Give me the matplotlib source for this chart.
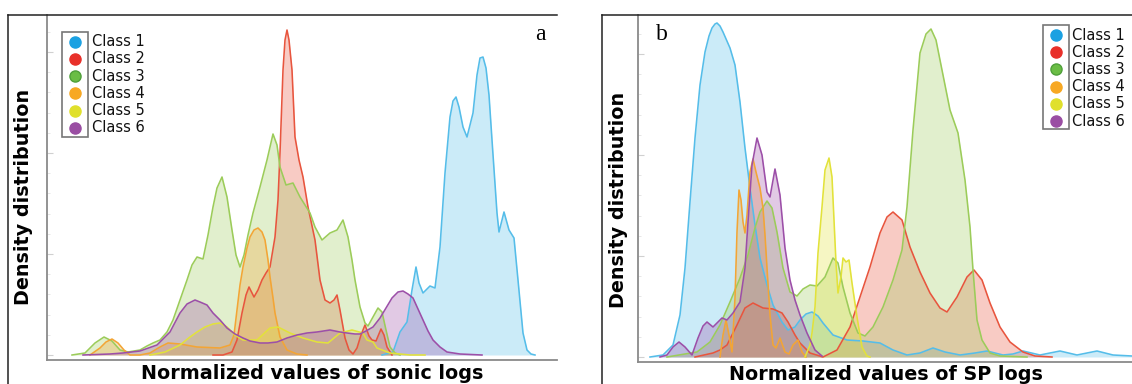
import matplotlib
matplotlib.use("Agg")
import matplotlib.pyplot as plt
from matplotlib.lines import Line2D
from matplotlib.patches import Rectangle
from matplotlib.ticker import MultipleLocator

W, H = 1132, 384

classes = ["Class 1", "Class 2", "Class 3", "Class 4", "Class 5", "Class 6"]
line_colors = ["#55bde9", "#e8553e", "#9ccc5a", "#f3a535", "#e2e23a", "#9c4fa8"]
marker_colors = ["#1ba1e2", "#e8302a", "#6abd45", "#f7a823", "#e0e02c", "#9a4ea3"]
marker_edges = ["#1ba1e2", "#e8302a", "#4f9f3a", "#f7a823", "#e0e02c", "#9a4ea3"]

# ---------------- Panel a: sonic logs (x position, density height) ----------------
a_c1_x = [382, 393, 400, 407, 412, 416, 419, 423, 430, 435, 440, 445, 450, 453, 456, 459, 463, 467, 473, 477, 480, 483, 486, 489, 492, 497, 499, 504, 509, 514, 518, 523, 527, 531, 535]
a_c1_y = [0, 3, 23, 33, 65, 88, 72, 62, 69, 67, 108, 182, 238, 254, 258, 248, 228, 218, 242, 280, 297, 298, 287, 260, 215, 142, 123, 143, 125, 117, 75, 22, 5, 1, 0]

a_c2_x = [213, 223, 232, 237, 242, 246, 249, 252, 254, 258, 262, 266, 270, 275, 278, 280, 283, 285, 287, 289, 292, 295, 299, 303, 308, 315, 320, 325, 330, 334, 337, 340, 345, 349, 353, 357, 361, 365, 369, 372, 376, 381, 384, 387, 392]
a_c2_y = [0, 0, 3, 15, 42, 60, 68, 62, 58, 65, 75, 82, 88, 118, 155, 202, 285, 315, 325, 315, 285, 218, 195, 178, 148, 115, 75, 55, 52, 55, 60, 45, 17, 5, 1, 7, 20, 30, 19, 15, 14, 26, 20, 8, 0]

a_c3_x = [72, 85, 95, 104, 112, 120, 128, 140, 147, 153, 160, 167, 173, 180, 187, 192, 197, 203, 208, 213, 217, 222, 227, 232, 236, 240, 244, 248, 253, 260, 267, 273, 277, 280, 286, 293, 300, 305, 310, 315, 322, 330, 337, 343, 348, 352, 355, 360, 365, 368, 373, 378, 382, 386, 390, 395, 400]
a_c3_y = [0, 2, 12, 18, 14, 5, 3, 5, 9, 12, 15, 23, 35, 55, 75, 90, 98, 96, 120, 148, 167, 178, 158, 125, 100, 88, 100, 120, 142, 168, 195, 221, 210, 188, 170, 172, 158, 150, 142, 128, 115, 122, 125, 135, 118, 95, 75, 48, 32, 29, 38, 47, 43, 25, 8, 2, 0]

a_c4_x = [90, 100, 106, 112, 118, 124, 130, 140, 150, 160, 168, 180, 197, 220, 230, 234, 237, 240, 243, 247, 250, 254, 258, 262, 265, 268, 270, 273, 275, 280, 287, 297, 307]
a_c4_y = [0, 7, 13, 16, 12, 5, 0, 0, 2, 8, 12, 11, 8, 7, 10, 20, 45, 70, 88, 107, 118, 125, 127, 123, 115, 95, 78, 57, 42, 18, 5, 1, 0]

a_c5_x = [150, 165, 180, 190, 197, 205, 213, 220, 227, 235, 243, 257, 270, 278, 290, 303, 317, 328, 340, 352, 363, 367, 373, 377, 390, 410, 425]
a_c5_y = [0, 3, 10, 18, 23, 28, 31, 32, 28, 20, 15, 15, 27, 28, 22, 17, 13, 12, 22, 25, 22, 15, 13, 7, 2, 0, 0]

a_c6_x = [83, 110, 123, 140, 157, 170, 180, 187, 195, 200, 207, 213, 220, 227, 235, 243, 250, 260, 268, 277, 287, 297, 307, 317, 330, 340, 347, 355, 360, 366, 373, 380, 386, 392, 398, 403, 408, 413, 418, 423, 428, 433, 440, 447, 460, 482]
a_c6_y = [0, 1, 2, 4, 10, 23, 42, 51, 55, 53, 50, 42, 35, 27, 21, 17, 14, 12, 12, 13, 17, 20, 22, 23, 25, 23, 22, 21, 21, 24, 28, 37, 47, 57, 63, 64, 61, 57, 46, 35, 24, 15, 8, 3, 1, 0]

# ---------------- Panel b: SP logs (x position, density height) ----------------
b_c1_x = [650, 663, 673, 680, 685, 690, 695, 700, 705, 709, 712, 715, 717, 720, 723, 730, 735, 740, 745, 750, 755, 760, 767, 773, 782, 788, 795, 800, 806, 812, 818, 823, 833, 847, 863, 880, 893, 907, 920, 933, 945, 960, 975, 987, 1003, 1013, 1023, 1040, 1060, 1077, 1097, 1113, 1132, 1145]
b_c1_y = [0, 2, 12, 42, 89, 155, 219, 272, 305, 321, 329, 333, 334, 331, 325, 309, 292, 255, 209, 169, 132, 99, 72, 52, 35, 27, 30, 37, 43, 45, 41, 34, 22, 17, 16, 14, 7, 2, 4, 9, 5, 2, 4, 6, 2, 3, 6, 2, 6, 2, 6, 2, 1, 1]

b_c2_x = [695, 713, 720, 727, 732, 737, 745, 753, 763, 773, 782, 788, 795, 800, 810, 823, 837, 850, 860, 870, 880, 887, 893, 902, 910, 920, 930, 940, 947, 957, 967, 974, 982, 990, 1000, 1010, 1023, 1035, 1052]
b_c2_y = [0, 4, 7, 12, 22, 32, 49, 54, 49, 48, 44, 35, 22, 14, 4, 0, 7, 30, 60, 90, 124, 140, 145, 137, 110, 85, 64, 49, 45, 60, 80, 87, 77, 54, 30, 15, 5, 1, 0]

b_c3_x = [667, 697, 710, 720, 730, 740, 748, 755, 760, 767, 772, 777, 783, 790, 797, 803, 810, 817, 825, 833, 838, 843, 850, 858, 865, 873, 883, 893, 902, 907, 913, 920, 926, 931, 936, 940, 950, 958, 965, 970, 973, 977, 982, 990, 1000, 1027]
b_c3_y = [0, 5, 15, 32, 55, 79, 102, 129, 145, 156, 149, 125, 89, 65, 61, 68, 72, 71, 80, 99, 94, 70, 44, 24, 21, 30, 50, 77, 107, 150, 227, 304, 323, 328, 317, 297, 247, 224, 177, 130, 87, 37, 17, 4, 1, 0]

b_c4_x = [720, 723, 726, 729, 732, 735, 737, 739, 741, 743, 745, 747, 750, 753, 756, 760, 763, 765, 767, 770, 773, 776, 780, 785, 789, 793, 798, 802, 806]
b_c4_y = [0, 22, 37, 22, 5, 59, 125, 167, 157, 135, 124, 142, 185, 198, 185, 169, 149, 122, 89, 42, 12, 9, 19, 5, 3, 12, 17, 5, 0]

b_c5_x = [805, 810, 812, 815, 818, 822, 825, 829, 832, 834, 836, 838, 841, 843, 846, 849, 852, 857, 862, 867, 870]
b_c5_y = [0, 12, 24, 50, 104, 150, 187, 199, 180, 137, 94, 64, 80, 99, 95, 97, 74, 40, 10, 1, 0]

b_c6_x = [660, 667, 673, 679, 685, 692, 698, 703, 707, 713, 718, 722, 727, 733, 740, 745, 748, 752, 757, 762, 767, 770, 775, 780, 785, 790, 795, 800, 807, 815, 822]
b_c6_y = [0, 2, 10, 15, 10, 2, 19, 31, 35, 30, 35, 39, 37, 44, 55, 89, 135, 192, 219, 202, 165, 160, 188, 162, 109, 77, 57, 42, 24, 7, 1]

panel_a = [(a_c1_x, a_c1_y), (a_c2_x, a_c2_y), (a_c3_x, a_c3_y),
           (a_c4_x, a_c4_y), (a_c5_x, a_c5_y), (a_c6_x, a_c6_y)]
panel_b = [(b_c1_x, b_c1_y), (b_c2_x, b_c2_y), (b_c3_x, b_c3_y),
           (b_c4_x, b_c4_y), (b_c5_x, b_c5_y), (b_c6_x, b_c6_y)]


def fx(px):
    return px / W


def fy(py):
    return 1 - py / H


fig = plt.figure(figsize=(W / 100, H / 100), dpi=100)


def make_axes(left, right, bottom, top, baseline):
    ax = fig.add_axes([fx(left), fy(bottom), fx(right) - fx(left), fy(top) - fy(bottom)])
    ax.set_xlim(left, right)
    ax.set_ylim(-(bottom - baseline), baseline - top)
    for s in ["top", "right"]:
        ax.spines[s].set_visible(False)
    for s in ["left", "bottom"]:
        ax.spines[s].set_color("#8a8a8a")
        ax.spines[s].set_linewidth(1.3)
    ax.set_xticks([])
    ax.yaxis.set_major_locator(MultipleLocator(101))
    ax.yaxis.set_minor_locator(MultipleLocator(20.2))
    ax.tick_params(axis="y", which="major", direction="in", length=4, color="#d0d0d0", labelleft=False)
    ax.tick_params(axis="y", which="minor", direction="in", length=2, color="#e2e2e2")
    ax.patch.set_alpha(0)
    return ax


ax_a = make_axes(47, 557, 360, 15, 355)
ax_b = make_axes(638, 1145, 362, 15, 357)

for ax, data in [(ax_a, panel_a), (ax_b, panel_b)]:
    for (xs, ys), c in zip(data, line_colors):
        ax.fill_between(xs, 0, ys, color=c, alpha=0.3, linewidth=0)
        ax.plot(xs, ys, color=c, lw=1.15, solid_joinstyle="round")

# outer frames
fig.add_artist(Line2D([fx(8), fx(8)], [0, fy(15)], color="#222222", lw=1.1))
fig.add_artist(Line2D([fx(8), fx(557)], [fy(15), fy(15)], color="#222222", lw=1.1))
fig.add_artist(Line2D([fx(602), fx(602)], [0, fy(15)], color="#222222", lw=1.1))
fig.add_artist(Line2D([fx(602), 1], [fy(15), fy(15)], color="#222222", lw=1.1))

# legends
def legend(mx, y0, tx, box):
    for i, (lab, c, ec) in enumerate(zip(classes, marker_colors, marker_edges)):
        y = y0 + i * 17.2
        fig.add_artist(Line2D([fx(mx)], [fy(y)], marker="o", ms=8, color=c,
                              markeredgecolor=ec, markeredgewidth=1.0, linestyle="none"))
        fig.text(fx(tx), fy(y), lab, fontsize=10.5, va="center", ha="left",
                 color="#111111", family="DejaVu Sans")
    x0, yt, x1, yb = box
    fig.add_artist(Rectangle((fx(x0), fy(yb)), fx(x1) - fx(x0), fy(yt) - fy(yb),
                             fill=False, edgecolor="#777777", lw=1.2))


legend(75, 41.7, 92, (62, 32, 88, 137))
legend(1056, 35, 1072, (1043, 25, 1069, 129))

# panel letters
fig.text(fx(540), fy(35), "a", fontsize=17, family="Liberation Serif", ha="center", va="center")
fig.text(fx(662), fy(34), "b", fontsize=17, family="Liberation Serif", ha="center", va="center")

# axis labels
fig.text(fx(312), fy(379), "Normalized values of sonic logs", fontsize=13.8, fontweight="bold",
         ha="center", va="baseline")
fig.text(fx(886), fy(380), "Normalized values of SP logs", fontsize=13.8, fontweight="bold",
         ha="center", va="baseline")
fig.text(fx(24), fy(197), "Density distribution", fontsize=13.8, fontweight="bold",
         rotation=90, ha="center", va="center")
fig.text(fx(619), fy(200), "Density distribution", fontsize=13.8, fontweight="bold",
         rotation=90, ha="center", va="center")

fig.savefig("out.png", dpi=100, facecolor="white")
